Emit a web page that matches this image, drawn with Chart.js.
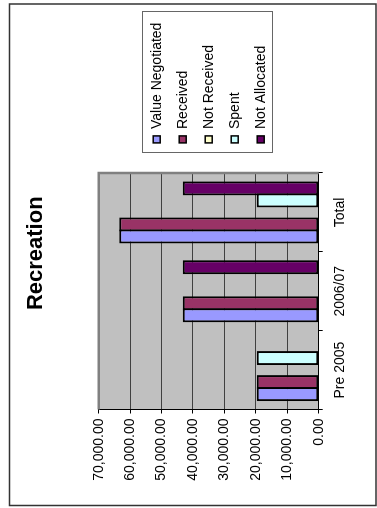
<!DOCTYPE html>
<html><head><meta charset="utf-8">
<script src="https://cdn.jsdelivr.net/npm/chart.js@4"></script>
<style>
html,body{margin:0;padding:0;background:#fff;overflow:hidden;width:377px;height:508px;}
#wrap{position:absolute;left:0;top:0;width:508px;height:377px;transform-origin:0 0;transform:translate(0px,508px) rotate(-90deg);}
canvas{display:block;}
</style></head><body>
<div id="wrap"><canvas id="c" width="508" height="377"></canvas></div>
<script>
const titleText = 'Recreation';
const categories = ['Pre 2005', '2006/07', 'Total'];
const seriesNames = ['Value Negotiated', 'Received', 'Not Received', 'Spent', 'Not Allocated'];
const valueNegotiated = [19750, 43250, 63500];
const received = [19750, 43250, 63500];
const notReceived = [0, 0, 0];
const spent = [19750, 0, 19750];
const notAllocated = [0, 43250, 43250];
const seriesColors = ['#9999FF', '#993366', '#FFFFCC', '#CCFFFF', '#660066'];
const yMin = 0, yMax = 70000, yStep = 10000;

const FONT = '"Liberation Sans", Arial, sans-serif';
const seriesValues = [valueNegotiated, received, notReceived, spent, notAllocated];

const datasets = seriesNames.map((name, i) => ({
  label: name,
  data: seriesValues[i],
  backgroundColor: seriesColors[i],
  borderColor: '#000',
  borderWidth: 2,
  borderSkipped: false,
  barPercentage: 14 / 12,
  categoryPercentage: 0.762
}));

const PAD_R = 11.5;
const AREA_RIGHT = 335;

const decor = {
  id: 'decor',
  beforeDraw(chart) {
    const a = chart.chartArea, ctx = chart.ctx;
    ctx.save();
    ctx.fillStyle = '#C0C0C0';
    ctx.fillRect(a.left, a.top, a.right - a.left, a.bottom - a.top);
    ctx.restore();
  },
  beforeDatasetsDraw(chart) {
    const a = chart.chartArea, ctx = chart.ctx;
    ctx.save();
    ctx.strokeStyle = '#808080';
    ctx.lineWidth = 2.5;
    ctx.beginPath();
    ctx.moveTo(a.left, a.top);
    ctx.lineTo(a.right, a.top);
    ctx.lineTo(a.right, a.bottom);
    ctx.stroke();
    ctx.restore();
  },
  afterDraw(chart) {
    const ctx = chart.ctx;
    ctx.save();
    // legend (drawn from the chart's datasets)
    const ds = chart.data.datasets;
    const rowH = 26, firstY = 156.7, boxX = 365.1, box = 7, textX = 379;
    ctx.font = '14px ' + FONT;
    ctx.textBaseline = 'middle';
    ctx.textAlign = 'left';
    ds.forEach((d, i) => {
      const cy = firstY + i * rowH;
      ctx.fillStyle = d.backgroundColor;
      ctx.fillRect(boxX, cy - box / 2, box, box);
      ctx.strokeStyle = '#000';
      ctx.lineWidth = 1.5;
      ctx.strokeRect(boxX, cy - box / 2, box, box);
      ctx.fillStyle = '#000';
      ctx.fillText(d.label, textX, cy);
    });
    ctx.strokeStyle = '#666';
    ctx.lineWidth = 1;
    ctx.strokeRect(355.5, 142.5, 141, 130);
    // outer chart border
    ctx.strokeStyle = '#333';
    ctx.lineWidth = 1.5;
    ctx.strokeRect(2.5, 9.5, 501.5, 366.5);
    ctx.restore();
  }
};

new Chart(document.getElementById('c'), {
  type: 'bar',
  data: { labels: categories, datasets },
  plugins: [decor],
  options: {
    responsive: false,
    animation: false,
    devicePixelRatio: 1,
    layout: { padding: { left: 13, right: PAD_R, top: 20.4, bottom: -20 } },
    scales: {
      x: {
        offset: true,
        grid: { display: true, drawOnChartArea: false, drawTicks: true, tickLength: 4, tickColor: '#000', offset: true },
        border: { display: true, color: '#000', width: 1 },
        ticks: { color: '#000', font: { family: FONT, size: 14 }, padding: 9, maxRotation: 0, autoSkip: false },
        afterFit(s) { s.height = 78.3; }
      },
      y: {
        min: yMin, max: yMax,
        grid: { color: '#404040', lineWidth: 1, tickLength: 4, tickColor: '#000' },
        border: { display: true, color: '#000', width: 1 },
        ticks: {
          stepSize: yStep, color: '#000', font: { family: FONT, size: 14 }, padding: 5,
          callback: v => Number(v).toLocaleString('en-US', { minimumFractionDigits: 2, maximumFractionDigits: 2 })
        },
        afterFit(s) { s.width = 85.5; }
      },
      gap: {
        type: 'linear', position: 'right', display: true,
        grid: { display: false, drawTicks: false },
        border: { display: false },
        ticks: { display: false },
        afterFit(s) { s.width = s.chart.width - PAD_R - AREA_RIGHT; }
      }
    },
    plugins: {
      title: {
        display: true, text: titleText, color: '#000',
        font: { family: FONT, size: 22, weight: 'bold' },
        padding: { top: 2.4, bottom: 49.5 }
      },
      legend: { display: false },
      tooltip: { enabled: false }
    }
  }
});
</script>
</body></html>
